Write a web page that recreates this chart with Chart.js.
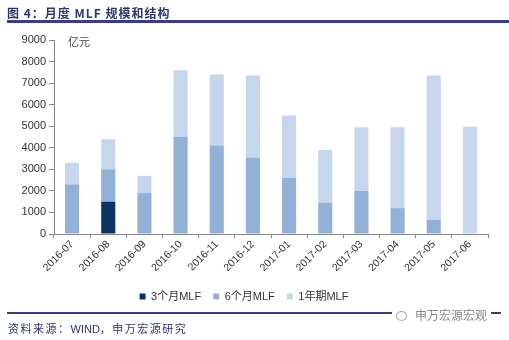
<!DOCTYPE html>
<html lang="zh">
<head>
    <meta charset="UTF-8">
    <title>月度MLF规模和结构</title>
    <script src="https://cdn.jsdelivr.net/npm/chart.js"></script>
    <style>
        body { margin: 0; background: #fff; }
        .wrap { position: relative; width: 509px; height: 340px; overflow: hidden; }
        canvas { position: absolute; left: 0; top: 0; }
        .title {
            position: absolute; left: 7px; top: 4px;
            font: bold 12px "Noto Sans CJK SC", sans-serif; color: #2c3570;
            letter-spacing: 1px;
        }
        .rule { position: absolute; left: 7px; right: 0; height: 3px; background: #3b3b8c; }
        .unit {
            position: absolute; left: 68px; top: 33px;
            font: 11px "Noto Sans CJK SC", sans-serif; color: #444;
        }
        .source {
            position: absolute; left: 8px; top: 320px;
            font: 11px "Noto Sans CJK SC", sans-serif; color: #2c3570;
            letter-spacing: 1.5px;
        }
        .source b { font-weight: normal; font-family: "Liberation Sans", Arial, sans-serif; letter-spacing: 0; }
        .mark {
            position: absolute; left: 392px; top: 306px; padding: 0 4px;
            background: #fff; font: 12px "Noto Sans CJK SC", sans-serif; color: #888;
        }
        .mark i {
            display: inline-block; width: 9px; height: 8px; border: 1px solid #aaa;
            border-radius: 50%; margin-right: 8px; vertical-align: -1px;
        }
    </style>
</head>
<body>
<div class="wrap">
    <canvas id="mlfChart" width="509" height="340"></canvas>
    <div class="title">图 4：月度 MLF 规模和结构</div>
    <div class="rule" style="top:20px"></div>
    <div class="unit">亿元</div>
    <div class="rule" style="top:312px; height:2px; right:8px"></div>
    <div class="mark"><i></i>申万宏源宏观</div>
    <div class="source">资料来源：<b>WIND</b>，申万宏源研究</div>
</div>

<script>
    // months and MLF operations by tenor (亿元)
    const months = ["2016-07", "2016-08", "2016-09", "2016-10", "2016-11", "2016-12",
                    "2017-01", "2017-02", "2017-03", "2017-04", "2017-05", "2017-06"];
    const mlf3m = [0, 1500, 0, 0, 0, 0, 0, 0, 0, 0, 0, 0];
    const mlf6m = [2300, 1500, 1900, 4500, 4100, 3550, 2600, 1450, 2000, 1200, 650, 0];
    const mlf1y = [1000, 1400, 800, 3100, 3300, 3800, 2900, 2450, 2950, 3750, 6700, 4980];

    const yTicks = { min: 0, max: 9000, step: 1000 };

    Chart.defaults.font.family = '"Liberation Sans", Arial, "Noto Sans CJK SC", sans-serif';
    Chart.defaults.color = "#333";

    const ctx = document.getElementById("mlfChart").getContext("2d");

    new Chart(ctx, {
        type: "bar",
        data: {
            labels: months,
            datasets: [
                { label: "3个月MLF", data: mlf3m, backgroundColor: "#0b3366" },
                { label: "6个月MLF", data: mlf6m, backgroundColor: "#93b0d7" },
                { label: "1年期MLF", data: mlf1y, backgroundColor: "#c6d6ed" }
            ]
        },
        options: {
            responsive: false,
            animation: false,
            layout: { padding: { top: 40, left: 0, right: 21, bottom: 28 } },
            datasets: {
                bar: { barPercentage: 0.39, categoryPercentage: 1 }
            },
            plugins: {
                title: { display: false },
                tooltip: { enabled: false },
                legend: {
                    position: "bottom",
                    labels: {
                        boxWidth: 6,
                        boxHeight: 6,
                        padding: 12,
                        color: "#333",
                        font: { size: 11 }
                    }
                }
            },
            scales: {
                x: {
                    stacked: true,
                    afterFit: scale => { scale.height = 45; },
                    grid: { drawOnChartArea: false, tickLength: 4, color: "#888", offset: true },
                    border: { color: "#888" },
                    ticks: {
                        minRotation: 45,
                        maxRotation: 45,
                        padding: 0,
                        font: { size: 10.5 },
                        color: "#333"
                    }
                },
                y: {
                    stacked: true,
                    min: yTicks.min,
                    max: yTicks.max,
                    afterFit: scale => { scale.width = 54; },
                    grid: { drawOnChartArea: false, tickLength: 5, color: "#888" },
                    border: { color: "#888" },
                    ticks: {
                        stepSize: yTicks.step,
                        padding: 3,
                        font: { size: 11 },
                        color: "#333",
                        callback: value => String(value)
                    }
                }
            }
        }
    });
</script>
</body>
</html>
